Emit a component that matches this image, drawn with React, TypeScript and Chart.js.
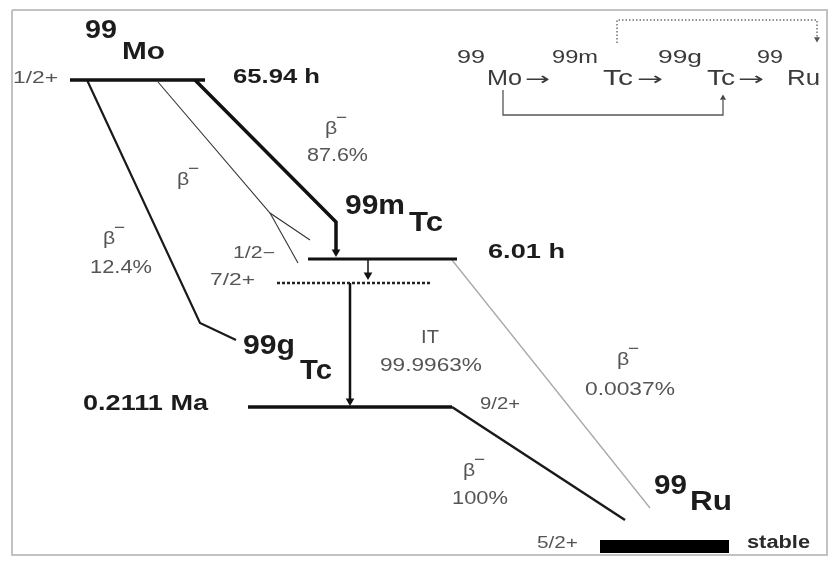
import { useEffect, useRef } from "react";
import { Chart, registerables } from "chart.js";

Chart.register(...registerables);

type Pt = { x: number; y: number };

// Diagram space: x runs left→right (0..832), y runs top→bottom (0..564).
const X_MAX = 832;
const Y_MAX = 564;

// ---- Nuclear levels ----
const levelMo: Pt[] = [{ x: 70, y: 80 }, { x: 205, y: 80 }];
const levelTc99m: Pt[] = [{ x: 308, y: 259 }, { x: 457, y: 259 }];
const levelTc72: Pt[] = [{ x: 277, y: 283 }, { x: 430, y: 283 }];
const levelTc99g: Pt[] = [{ x: 248, y: 407 }, { x: 452, y: 407 }];
const levelRu: Pt[] = [{ x: 600, y: 546.5 }, { x: 729, y: 546.5 }];

// ---- Transitions ----
const betaMoTo99m: Pt[] = [{ x: 195, y: 80 }, { x: 336, y: 222 }, { x: 336, y: 252 }];
const betaMoTo12: Pt[] = [{ x: 158, y: 82 }, { x: 270, y: 213 }, { x: 310, y: 240 }];
const betaMoTo72: Pt[] = [{ x: 270, y: 213 }, { x: 298, y: 263 }];
const betaMoTo99g: Pt[] = [{ x: 87, y: 80 }, { x: 200, y: 323 }, { x: 236, y: 340 }];
const gamma12To72: Pt[] = [{ x: 368, y: 259 }, { x: 368, y: 273 }];
const itTo99g: Pt[] = [{ x: 350, y: 283 }, { x: 350, y: 399 }];
const beta99mToRu: Pt[] = [{ x: 452, y: 260 }, { x: 650, y: 508 }];
const beta99gToRu: Pt[] = [{ x: 452, y: 407 }, { x: 625, y: 520 }];

// Arrow tips (drawn as triangles pointing along the transition)
const arrowsDown: Pt[] = [{ x: 336, y: 252 }, { x: 368, y: 275 }, { x: 350, y: 401 }];

// ---- Chain summary (top right) ----
const chainDotted: Pt[] = [{ x: 617, y: 43 }, { x: 617, y: 20 }, { x: 817, y: 20 }, { x: 817, y: 38 }];
const chainDottedTip: Pt[] = [{ x: 817, y: 39 }];
const chainBypass: Pt[] = [{ x: 503, y: 90 }, { x: 503, y: 115 }, { x: 723, y: 115 }, { x: 723, y: 100 }];
const chainBypassTip: Pt[] = [{ x: 723, y: 98 }];

// ---- Frame ----
const frame: Pt[] = [
  { x: 12, y: 10 }, { x: 827, y: 10 }, { x: 827, y: 555 }, { x: 12, y: 555 }, { x: 12, y: 10 },
];

// ---- Text ----
type Label = {
  text: string;
  x: number;
  y: number;
  size: number;
  w?: number; // set width (glyphs are drawn slightly wide)
  bold?: boolean;
  color?: string;
  align?: "left" | "center";
  sup?: string;
  font?: string;
};

const DARK = "#1c1c1c";
const GREY = "#555555";
const INSET = "#3a3a3a";

const labels: Label[] = [
  // 99Mo
  { text: "99", x: 85, y: 31, size: 25, w: 32, bold: true, color: DARK },
  { text: "Mo", x: 122, y: 52, size: 24, w: 43, bold: true, color: DARK },
  { text: "1/2+", x: 13, y: 79, size: 16, w: 45, color: GREY },
  { text: "65.94 h", x: 233, y: 77, size: 21, w: 87, bold: true, color: DARK },
  // branches from 99Mo
  { text: "β", x: 325, y: 129, size: 19, color: GREY, sup: "−" },
  { text: "87.6%", x: 307, y: 156, size: 18, w: 61, color: GREY },
  { text: "β", x: 177, y: 180, size: 19, color: GREY, sup: "−" },
  { text: "β", x: 103, y: 239, size: 19, color: GREY, sup: "−" },
  { text: "12.4%", x: 90, y: 268, size: 18, w: 62, color: GREY },
  // 99mTc
  { text: "99m", x: 345, y: 207, size: 27, w: 60, bold: true, color: DARK },
  { text: "Tc", x: 409, y: 224, size: 27, w: 34, bold: true, color: DARK },
  { text: "6.01 h", x: 488, y: 252, size: 21, w: 77, bold: true, color: DARK },
  { text: "1/2−", x: 233, y: 254, size: 16, w: 42, color: GREY },
  { text: "7/2+", x: 210, y: 281, size: 16, w: 45, color: GREY },
  { text: "IT", x: 430, y: 338, size: 18, color: GREY, align: "center" },
  { text: "99.9963%", x: 431, y: 366, size: 18, w: 102, color: GREY, align: "center" },
  // 99gTc
  { text: "99g", x: 243, y: 347, size: 27, w: 52, bold: true, color: DARK },
  { text: "Tc", x: 300, y: 372, size: 27, w: 32, bold: true, color: DARK },
  { text: "0.2111 Ma", x: 83, y: 404, size: 22, w: 125, bold: true, color: DARK },
  { text: "9/2+", x: 480, y: 405, size: 16, w: 40, color: GREY },
  { text: "β", x: 617, y: 360, size: 19, color: GREY, sup: "−" },
  { text: "0.0037%", x: 585, y: 390, size: 18, w: 90, color: GREY },
  { text: "β", x: 463, y: 471, size: 19, color: GREY, sup: "−" },
  { text: "100%", x: 452, y: 499, size: 18, w: 56, color: GREY },
  // 99Ru
  { text: "99", x: 654, y: 487, size: 27, w: 33, bold: true, color: DARK },
  { text: "Ru", x: 690, y: 503, size: 27, w: 42, bold: true, color: DARK },
  { text: "5/2+", x: 537, y: 544, size: 16, w: 41, color: GREY },
  { text: "stable", x: 747, y: 543, size: 18, w: 63, bold: true, color: "#2a2a2a" },
  // chain summary
  { text: "99", x: 457, y: 58, size: 19, w: 28, color: INSET },
  { text: "Mo", x: 487, y: 79, size: 22, w: 35, color: INSET },
  { text: "→", x: 525, y: 80, size: 18, w: 25, color: INSET, font: '"DejaVu Sans"' },
  { text: "99m", x: 552, y: 58, size: 19, w: 46, color: INSET },
  { text: "Tc", x: 603, y: 79, size: 22, w: 30, color: INSET },
  { text: "→", x: 637, y: 80, size: 18, w: 26, color: INSET, font: '"DejaVu Sans"' },
  { text: "99g", x: 658, y: 58, size: 19, w: 44, color: INSET },
  { text: "Tc", x: 707, y: 79, size: 22, w: 28, color: INSET },
  { text: "→", x: 738, y: 80, size: 18, w: 26, color: INSET, font: '"DejaVu Sans"' },
  { text: "99", x: 757, y: 58, size: 19, w: 26, color: INSET },
  { text: "Ru", x: 787, y: 79, size: 22, w: 33, color: INSET },
];

// Default horizontal widening for glyphs without a set width.
const STRETCH_X = 1.12;
const FAMILY = '"Liberation Sans", Arial, Helvetica, sans-serif';

const path = (data: Pt[], color: string, width: number, dash: number[] = []) => ({
  type: "line" as const,
  data,
  borderColor: color,
  backgroundColor: color,
  borderWidth: width,
  borderDash: dash,
  borderCapStyle: "butt" as const,
  borderJoinStyle: "miter" as const,
  pointRadius: 0,
  fill: false,
  tension: 0,
  clip: false as const,
});

const tips = (data: Pt[], color: string, radius: number, rotation: number) => ({
  type: "line" as const,
  data,
  showLine: false,
  pointStyle: "triangle" as const,
  pointRadius: radius,
  rotation,
  pointBackgroundColor: color,
  pointBorderColor: color,
  pointBorderWidth: 0,
  clip: false as const,
});

const textPlugin = {
  id: "decayText",
  afterDatasetsDraw(chart: any) {
    const { ctx, scales } = chart;
    const sx = scales.x;
    const sy = scales.y;
    for (const l of labels) {
      ctx.save();
      const family = l.font ? `${l.font}, ${FAMILY}` : FAMILY;
      ctx.font = `${l.bold ? "bold " : ""}${l.size}px ${family}`;
      ctx.fillStyle = l.color ?? DARK;
      ctx.textBaseline = "middle";
      ctx.textAlign = "left";
      const natural = ctx.measureText(l.text).width;
      const k = l.w ? l.w / natural : STRETCH_X;
      ctx.translate(sx.getPixelForValue(l.x), sy.getPixelForValue(l.y));
      ctx.scale(k, 1);
      const dx = l.align === "center" ? -natural / 2 : 0;
      ctx.fillText(l.text, dx, 0);
      if (l.sup) {
        ctx.font = `${Math.round(l.size * 0.9)}px ${FAMILY}`;
        ctx.fillText(l.sup, dx + natural - 1, -l.size * 0.55);
      }
      ctx.restore();
    }
  },
};

export default function App() {
  const ref = useRef<HTMLCanvasElement>(null);

  useEffect(() => {
    if (!ref.current) return;
    const chart = new Chart(ref.current, {
      type: "line",
      data: {
        datasets: [
          path(frame, "#c2c2c2", 2),
          path(levelMo, "#111", 3.5),
          path(levelTc99m, "#111", 3),
          path(levelTc72, "#222", 2.5, [3, 2]),
          path(levelTc99g, "#111", 3.5),
          path(levelRu, "#000", 13),
          path(betaMoTo99m, "#111", 3.5),
          path(betaMoTo12, "#333", 1.1),
          path(betaMoTo72, "#333", 1.1),
          path(betaMoTo99g, "#1a1a1a", 2.2),
          path(gamma12To72, "#111", 1.5),
          path(itTo99g, "#111", 2.5),
          path(beta99mToRu, "#a8a8a8", 1.3),
          path(beta99gToRu, "#1a1a1a", 2.5),
          tips(arrowsDown, "#111", 5, 180),
          path(chainDotted, "#6f6f6f", 1.5, [1.5, 2]),
          tips(chainDottedTip, "#555", 3.5, 180),
          path(chainBypass, "#555", 1.3),
          tips(chainBypassTip, "#444", 3.5, 0),
        ] as any,
      },
      options: {
        animation: false,
        responsive: false,
        devicePixelRatio: 1,
        events: [],
        layout: { padding: 0, autoPadding: false },
        plugins: {
          legend: { display: false },
          tooltip: { enabled: false },
          title: { display: false },
        },
        scales: {
          x: { type: "linear", min: 0, max: X_MAX, display: false },
          y: { type: "linear", min: 0, max: Y_MAX, reverse: true, display: false },
        },
      },
      plugins: [textPlugin],
    });
    return () => chart.destroy();
  }, []);

  return (
    <div style={{ position: "absolute", left: 0, top: 0, width: X_MAX, height: Y_MAX, background: "#fff" }}>
      <canvas ref={ref} width={X_MAX} height={Y_MAX} style={{ display: "block", width: X_MAX, height: Y_MAX }} />
    </div>
  );
}
